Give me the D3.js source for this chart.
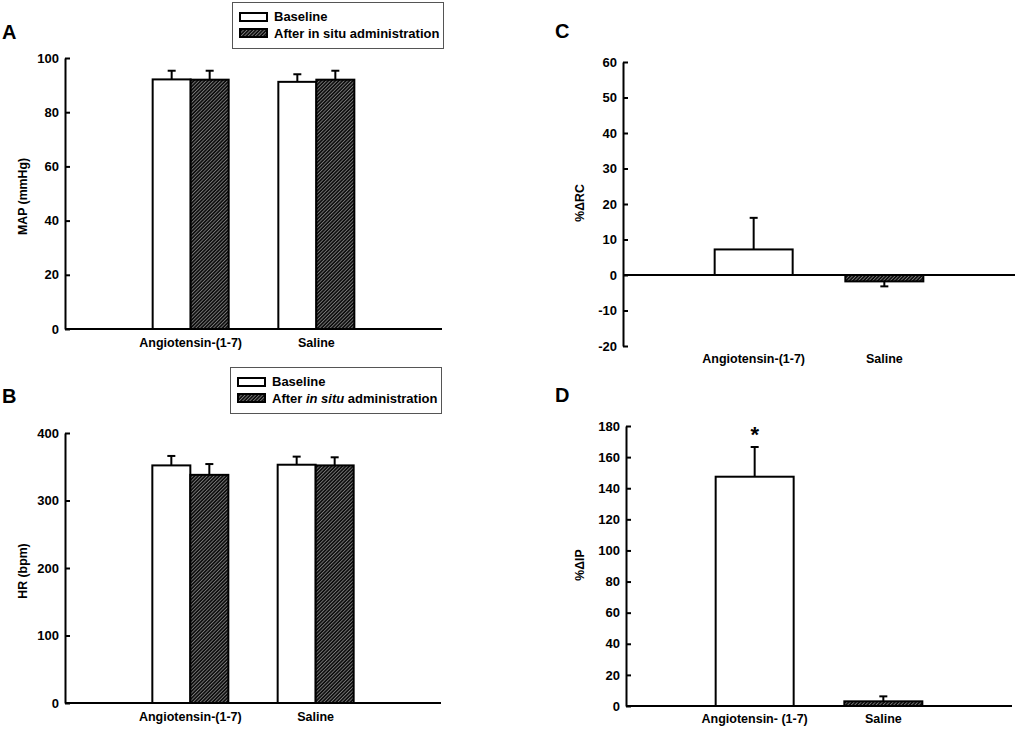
<!DOCTYPE html>
<html lang="en">
<head>
<meta charset="UTF-8">
<title>MAP, HR, %ΔRC, %ΔIP</title>
<script src="https://d3js.org/d3.v7.min.js"></script>
<style>
  body { margin: 0; background: #fff; }
  svg { display: block; font-family: "Liberation Sans", Arial, sans-serif; }
  .tick text { font-family: "Liberation Sans", Arial, sans-serif; font-size: 13px; font-weight: bold; }
  .cat { font-size: 12.5px; font-weight: bold; }
  .ytitle { font-size: 12.3px; font-weight: bold; }
  .panel { font-size: 20px; font-weight: bold; }
  .leg { font-size: 13px; font-weight: bold; }
</style>
</head>
<body>
<div id="chart"></div>
<script>
// data
const groups = ["Angiotensin-(1-7)", "Saline"];
const seriesNames = ["Baseline", "After in situ administration"];

const mapBaseline = [92.1, 91.2];
const mapBaselineErr = [3.2, 2.8];
const mapAfter = [92.0, 92.0];
const mapAfterErr = [3.3, 3.3];
const mapTicks = [0, 20, 40, 60, 80, 100];

const hrBaseline = [352, 353];
const hrBaselineErr = [14, 12];
const hrAfter = [338, 352];
const hrAfterErr = [16, 12];
const hrTicks = [0, 100, 200, 300, 400];

const rcGroups = ["Angiotensin-(1-7)", "Saline"];
const rcValues = [7.2, -1.8];
const rcErr = [8.9, 1.4];
const rcTicks = [-20, -10, 0, 10, 20, 30, 40, 50, 60];

const ipGroups = ["Angiotensin- (1-7)", "Saline"];
const ipValues = [147.4, 3.0];
const ipErr = [19.1, 3.2];
const ipTicks = [0, 20, 40, 60, 80, 100, 120, 140, 160, 180];

const W = 1017, H = 729;
const svg = d3.select("#chart").append("svg").attr("width", W).attr("height", H);

// hatch fill
const defs = svg.append("defs");
const pat = defs.append("pattern")
    .attr("id", "hatch")
    .attr("patternUnits", "userSpaceOnUse")
    .attr("width", 2.5).attr("height", 2.5)
    .attr("patternTransform", "rotate(45)");
pat.append("rect").attr("width", 2.5).attr("height", 2.5).attr("fill", "#0a0a0a");
pat.append("line").attr("x1", 0.5).attr("y1", 0).attr("x2", 0.5).attr("y2", 2.5)
    .attr("stroke", "#8c8c8c").attr("stroke-width", 0.8);

const fills = ["#fff", "url(#hatch)"];

function yAxis(g, y, ticks, x0) {
    g.attr("transform", `translate(${x0},0)`)
        .call(d3.axisLeft(y).tickValues(ticks).tickFormat(d => String(d))
            .tickSize(-5).tickPadding(6).tickSizeOuter(0));
    g.select(".domain").attr("stroke-width", 2);
    g.selectAll(".tick line").attr("stroke-width", 2);
}

function errBar(g, cx, yv, ye) {
    g.append("line").attr("x1", cx).attr("x2", cx).attr("y1", yv).attr("y2", ye)
        .attr("stroke", "#000").attr("stroke-width", 2);
    g.append("line").attr("x1", cx - 4).attr("x2", cx + 4).attr("y1", ye).attr("y2", ye)
        .attr("stroke", "#000").attr("stroke-width", 2);
}

function legend(x, y, italic) {
    const g = svg.append("g").attr("transform", `translate(${x},${y})`);
    g.append("rect").attr("x", 0.5).attr("y", 0.5).attr("width", 211).attr("height", 46)
        .attr("fill", "#fff").attr("stroke", "#555").attr("stroke-width", 1);
    seriesNames.forEach((s, i) => {
        g.append("rect").attr("x", 8).attr("y", 11 + i * 16).attr("width", 27).attr("height", 8)
            .attr("fill", fills[i]).attr("stroke", "#000").attr("stroke-width", 2);
        const t = g.append("text").attr("class", "leg").attr("x", 42).attr("y", 19 + i * 16.5);
        if (i === 1 && italic) {
            t.append("tspan").text("After ");
            t.append("tspan").attr("font-style", "italic").text("in situ");
            t.append("tspan").text(" administration");
        } else {
            t.text(s);
        }
    });
}

// grouped panels (A, B)
function groupedPanel(o) {
    const g = svg.append("g");
    const y = d3.scaleLinear().domain(o.domain).range([o.y0, o.y1]);
    const x = d3.scalePoint().domain(groups).range([o.x0, o.x1]).padding(1);
    const sub = d3.scaleBand().domain(seriesNames).range([-38, 38]);

    groups.forEach((grp, i) => {
        const vals = [o.base[i], o.after[i]];
        const errs = [o.baseErr[i], o.afterErr[i]];
        seriesNames.forEach((s, j) => {
            const bx = x(grp) + sub(s);
            g.append("rect")
                .attr("x", bx).attr("y", y(vals[j]))
                .attr("width", sub.bandwidth()).attr("height", y(0) - y(vals[j]))
                .attr("fill", fills[j]).attr("stroke", "#000").attr("stroke-width", 2);
            errBar(g, bx + sub.bandwidth() / 2, y(vals[j]), y(vals[j] + errs[j]));
        });
        g.append("text").attr("class", "cat").attr("text-anchor", "middle")
            .attr("x", x(grp)).attr("y", o.y0 + 18).text(grp);
    });

    g.append("line").attr("x1", o.x0).attr("x2", o.x1).attr("y1", y(0)).attr("y2", y(0))
        .attr("stroke", "#000").attr("stroke-width", 2);
    yAxis(g.append("g"), y, o.ticks, o.x0);

    g.append("text").attr("class", "ytitle").attr("text-anchor", "middle")
        .attr("transform", `translate(${o.titleX},${(o.y0 + o.y1) / 2 + 3}) rotate(-90)`)
        .text(o.title);
    g.append("text").attr("class", "panel").attr("x", o.labelX).attr("y", o.labelY).text(o.label);
}

// single-series panels (C, D)
function singlePanel(o) {
    const g = svg.append("g");
    const y = d3.scaleLinear().domain(o.domain).range([o.y0, o.y1]);
    const x = d3.scalePoint().domain(o.cats).range([o.x0, o.x1]).padding(1);
    const bw = 78;

    o.cats.forEach((c, i) => {
        const v = o.values[i];
        const top = Math.min(y(v), y(0));
        g.append("rect")
            .attr("x", x(c) - bw / 2).attr("y", top)
            .attr("width", bw).attr("height", Math.abs(y(0) - y(v)))
            .attr("fill", fills[i]).attr("stroke", "#000").attr("stroke-width", 2);
        const dir = v >= 0 ? 1 : -1;
        errBar(g, x(c), y(v), y(v + dir * o.err[i]));
        g.append("text").attr("class", "cat").attr("text-anchor", "middle")
            .attr("x", x(c)).attr("y", o.y0 + 17).text(c);
    });

    g.append("line").attr("x1", o.x0).attr("x2", o.x1).attr("y1", y(0)).attr("y2", y(0))
        .attr("stroke", "#000").attr("stroke-width", 2);
    yAxis(g.append("g"), y, o.ticks, o.x0);

    g.append("text").attr("class", "ytitle").attr("text-anchor", "middle")
        .attr("transform", `translate(${o.titleX},${o.titleY}) rotate(-90)`)
        .text(o.title);
    g.append("text").attr("class", "panel").attr("x", o.labelX).attr("y", o.labelY).text(o.label);

    if (o.star) {
        g.append("text").attr("text-anchor", "middle").attr("font-size", 22).attr("font-weight", "bold")
            .attr("x", x(o.cats[0])).attr("y", o.starY).text("*");
    }
}

groupedPanel({
    base: mapBaseline, baseErr: mapBaselineErr, after: mapAfter, afterErr: mapAfterErr,
    domain: [0, 100], ticks: mapTicks, x0: 65, x1: 442, y0: 329, y1: 58,
    title: "MAP (mmHg)", titleX: 27, label: "A", labelX: 2, labelY: 39
});
legend(232, 2, false);

groupedPanel({
    base: hrBaseline, baseErr: hrBaselineErr, after: hrAfter, afterErr: hrAfterErr,
    domain: [0, 400], ticks: hrTicks, x0: 65, x1: 441, y0: 703, y1: 433,
    title: "HR (bpm)", titleX: 27, label: "B", labelX: 2, labelY: 403
});
legend(230, 367, true);

singlePanel({
    cats: rcGroups, values: rcValues, err: rcErr,
    domain: [-20, 60], ticks: rcTicks, x0: 623, x1: 1015, y0: 346, y1: 62,
    title: "%ΔRC", titleX: 584, titleY: 203, label: "C", labelX: 555, labelY: 38
});

singlePanel({
    cats: ipGroups, values: ipValues, err: ipErr,
    domain: [0, 180], ticks: ipTicks, x0: 626, x1: 1012, y0: 706, y1: 426,
    title: "%ΔIP", titleX: 584, titleY: 565, label: "D", labelX: 555, labelY: 402,
    star: true, starY: 442
});
</script>
</body>
</html>
